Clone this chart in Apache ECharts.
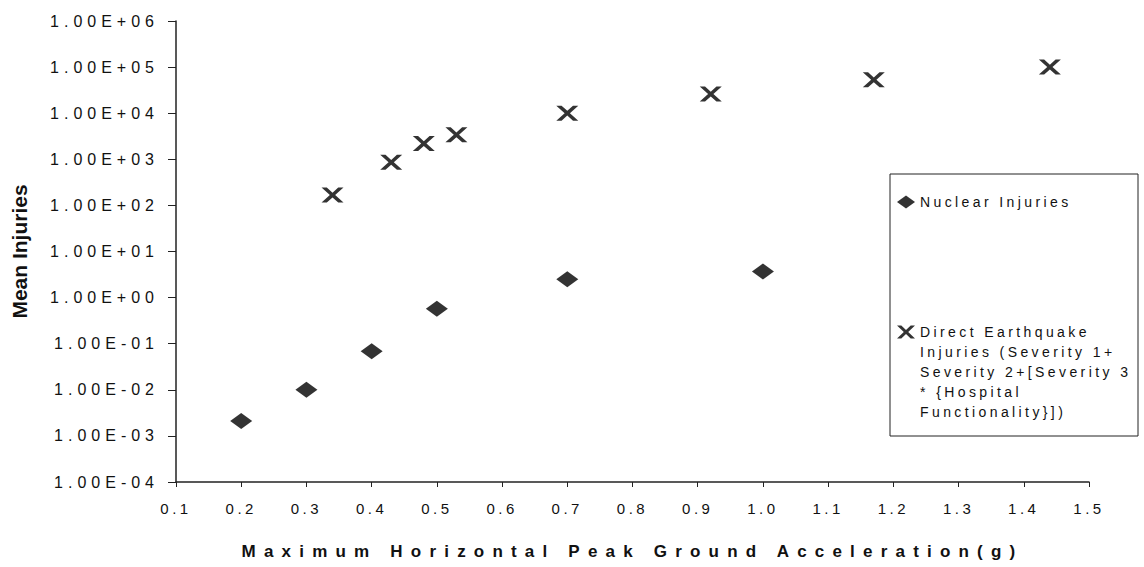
<!DOCTYPE html>
<html>
<head>
<meta charset="utf-8">
<script src="https://cdn.jsdelivr.net/npm/echarts@6/dist/echarts.min.js"></script>
<style>
  html, body { margin: 0; padding: 0; background: #fff; }
  #chart { width: 1144px; height: 567px; }
  /* letter spacing of the scanned original, one rule per text size */
  #chart text[style*="16px"] { letter-spacing: 5px; }
  #chart text[style*="15px"] { letter-spacing: 3.5px; }
  #chart text[style*="14px"] { letter-spacing: 3.4px; }
  #chart text[style*="17px"] { letter-spacing: 8.2px; }
</style>
</head>
<body>
<div id="chart"></div>
<script>
const nuclearName = 'Nuclear Injuries';
const nuclearPga = [0.2, 0.3, 0.4, 0.5, 0.7, 1.0];
const nuclearInjuries = [0.0021, 0.01, 0.069, 0.57, 2.5, 3.7];

const quakeName = 'Direct Earthquake Injuries (Severity 1+ Severity 2+[Severity 3 * {Hospital Functionality}])';
const quakeLegendLines = ['Direct Earthquake', 'Injuries (Severity 1+', 'Severity 2+[Severity 3', '* {Hospital', 'Functionality}])'];
const quakePga = [0.34, 0.43, 0.48, 0.53, 0.70, 0.92, 1.17, 1.44];
const quakeInjuries = [168, 860, 2200, 3400, 10000, 26000, 53000, 100000];

const font = 'Liberation Sans';
// x mark, and the same mark sitting at the top of a 18x100 box for the legend
const crossPath = 'path://M0,0 L2.4,0 L5,3.42 L7.6,0 L10,0 L6.2,5 L10,10 L7.6,10 L5,6.58 L2.4,10 L0,10 L3.8,5 Z';
const crossLegendPath = 'path://M0,0 L0,0 M0,3.5 L4.3,3.5 L9,7.95 L13.7,3.5 L18,3.5 L11.2,10 L18,16.5 L13.7,16.5 L9,12.05 L4.3,16.5 L0,16.5 L6.8,10 Z M0,100 L0,100';

function sci(v) {
  const e = Math.round(Math.log10(v));
  const a = Math.abs(e);
  return '1.00E' + (e < 0 ? '-' : '+') + (a < 10 ? '0' + a : a);
}

function pairs(xs, ys) {
  return xs.map(function (x, i) { return [x, ys[i]]; });
}

const chart = echarts.init(document.getElementById('chart'), null, { renderer: 'svg' });

chart.setOption({
  animation: false,
  backgroundColor: '#fff',
  grid: { left: 176, right: 55, top: 21, bottom: 85 },
  xAxis: {
    type: 'value',
    min: 0.1,
    max: 1.5,
    interval: 0.1,
    name: 'Maximum Horizontal Peak Ground Acceleration(g)',
    nameLocation: 'middle',
    nameGap: 61,
    nameTextStyle: { fontFamily: font, fontSize: 17, fontWeight: 'bold', color: '#111' },
    axisLine: { lineStyle: { color: '#222', width: 1.5 } },
    axisTick: { length: 5, lineStyle: { color: '#222' } },
    axisLabel: {
      margin: 19,
      fontFamily: font,
      fontSize: 15,
      color: '#111',
      formatter: function (v) { return v.toFixed(1); }
    },
    splitLine: { show: false }
  },
  yAxis: {
    type: 'log',
    logBase: 10,
    min: 0.0001,
    max: 1000000,
    splitNumber: 10,
    name: 'Mean Injuries',
    nameLocation: 'middle',
    nameGap: 146,
    nameTextStyle: { fontFamily: font, fontSize: 21, fontWeight: 'bold', color: '#111' },
    axisLine: { show: true, lineStyle: { color: '#222', width: 1.5 } },
    axisTick: { show: true, length: 8, lineStyle: { color: '#222' } },
    axisLabel: {
      margin: 17,
      fontFamily: font,
      fontSize: 16,
      color: '#111',
      formatter: sci
    },
    splitLine: { show: false },
    minorTick: { show: false }
  },
  legend: [
    {
      data: [nuclearName],
      left: 897,
      top: 195,
      padding: 0,
      itemWidth: 18,
      itemHeight: 13,
      textStyle: { fontFamily: font, fontSize: 14, color: '#111' }
    },
    {
      data: [{ name: quakeName, icon: crossLegendPath }],
      left: 897,
      top: 322,
      padding: 0,
      itemWidth: 18,
      itemHeight: 100,
      formatter: function () { return quakeLegendLines.join('\n'); },
      textStyle: { fontFamily: font, fontSize: 14, lineHeight: 20, color: '#111' }
    }
  ],
  graphic: [{
    type: 'rect',
    shape: { x: 890, y: 174, width: 248, height: 262 },
    style: { fill: 'none', stroke: '#222', lineWidth: 1 },
    silent: true
  }],
  series: [
    {
      name: nuclearName,
      type: 'scatter',
      symbol: 'diamond',
      symbolSize: [22, 16],
      itemStyle: { color: '#000' },
      data: pairs(nuclearPga, nuclearInjuries)
    },
    {
      name: quakeName,
      type: 'scatter',
      symbol: crossPath,
      symbolSize: [22, 15],
      itemStyle: { color: '#000' },
      data: pairs(quakePga, quakeInjuries)
    }
  ]
});
</script>
</body>
</html>
